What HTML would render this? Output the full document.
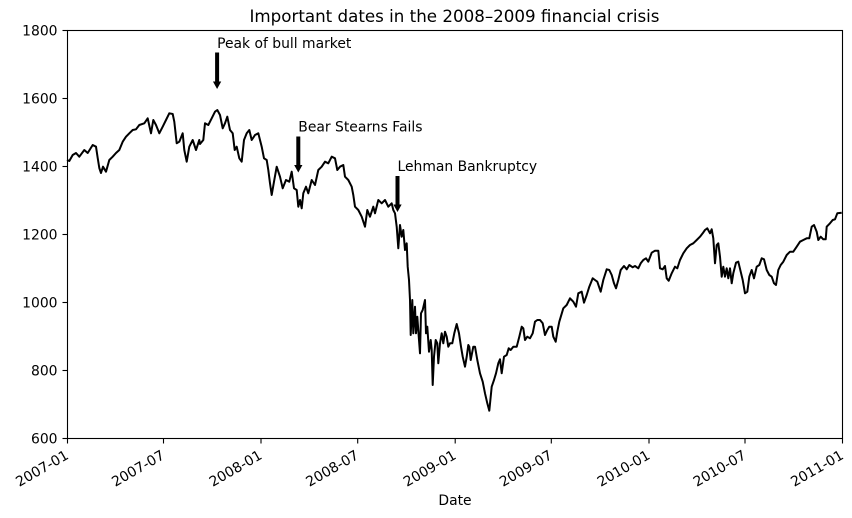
<!DOCTYPE html>
<html>
<head>
<meta charset="utf-8">
<style>
html,body{margin:0;padding:0;background:#fff;}
svg{display:block;}
text{font-family:"DejaVu Sans","Liberation Sans",sans-serif;fill:#000;}
</style>
</head>
<body>
<svg width="852" height="518" viewBox="0 0 852 518" xmlns="http://www.w3.org/2000/svg">
<rect x="0" y="0" width="852" height="518" fill="#fff"/>

<!-- title -->
<text x="454.5" y="22" font-size="16.7" text-anchor="middle">Important dates in the 2008–2009 financial crisis</text>

<!-- series -->
<polyline fill="none" stroke="#000" stroke-width="2" stroke-linejoin="round" points="
67,160 69.3,161 72.7,155 76,153 79.3,156.7 84.3,150 87.7,153 92.7,145 96,146.7 97.7,158 99.3,168 101,173 103,166.7 106,171.7 109.3,160 112.7,156.7 116,153 119.3,150 122.7,141.7 126,136.7 129.3,133.3 132.7,130 136,129.3 139.3,125 144.3,123.3 147.7,118.3 151,133.3 153.3,120 156,125 159.3,133.3 162.7,126.7 166,120 169.3,113.3 172.7,114 174.3,121.7 176.7,143.3 179.3,141.7 182.7,133.3 184.3,150 186.7,161.7 189.3,146.7 192.7,140 196,150 199.3,140
200,144 203.3,140 205,123.3 208.3,125 211.7,118.3 215,111.7 217.3,110 220,115 222.7,128.3 225,123.3 227.3,116.7 230,130 232.7,133.3 234.7,150 236.7,146.7 239.3,158.3 241.7,161.7 244,140 246.7,133.3 249.3,130 251.7,140 255,135 258.3,133.3 261.7,146.7 264,158.3 266.7,160 268.3,170 270,183.3 271.7,195 274,181.7 276.7,166.7 280,176.7 282.7,188.3 286,180 289.3,181.7 291.7,171.7 294,188.3 296.7,190 298.3,206.7 300,200 301.7,208.3 303.3,193.3 306,186.7 308.3,193.3 311.7,180 315,185 318.3,170 321.7,166.7 325,161.7 328.3,163.3 331.7,156.7 335,158.3 337.3,170 340,166.7
343.3,165 345,176.7 348.3,180 351.7,186.7 353.3,195 355,206.7 358.3,210 361.7,216.7 365,226.7 367.3,210 370,216.7 373.3,206.7 375,213.3 378.3,200 381.7,203.3 385,200 388.3,206.7 391.7,203.3 393.3,210
395,213.3 396.7,226.7 398.3,248.3 400,225 401.7,236.7 403.3,230 405,250 406.7,243.3 407.7,266.7 409,280 410,300 410.7,335 412.3,300 413.3,333.3 415,306.7 416,333.3 417.3,316.7 419,340 420,353.3 421,313.3 422.7,310 425,300 426,333.3 427.3,326.7 429,351.7 430.7,340 431.7,350 432.7,385 434,356.7 435.7,340 437.3,343.3 438.3,363.3 440,343.3 441.7,333.3 443.3,343.3 445,331.7 446.7,336.7 448.3,346.7 450,343.3 452.3,343.3 454.3,333.3 456.7,324 459,333.3 461,346.7 462.7,356.7 465,366.7 466.7,356.7 468.3,345
469.3,346.7 470.7,360 473.3,346.7 475,346.7 477.3,360 480,373.3 482.7,381.7 485,393.3 487.3,403.3 489.3,410.7 491.7,386.7 494,380 496,373.3 498.3,363.3 500,359.3 501.7,373.3 504,356.7 506.7,355 508.7,348.3 510.7,350 513.3,346.7 516.7,346.7 519.3,336.7 521.7,326.7 523.3,328.3 525,340 527.3,336.7 530,338.3 532.7,333.3 535,321.7 537.3,320 540,320 542.7,323.3 545,335 547.3,330 549.3,326.7 551.7,326.7 553.3,336.7 555.7,341.7 557.3,331.7 559.3,321.7
563.3,308.3 566.7,305 570,298.3 573.3,301.7 576,306.7 578.3,293.3 581.7,291.7 584,302.7 586.7,295 589.3,286.7 592.7,278.3 595,280 597.3,281.7 600.7,291.7 603.3,280 606.7,269.3 609.3,270 611.7,275 614,283.3 616,288.3 618.3,280 620.7,270 624,266 626.7,269.3 629.3,265 632.7,267.3 635,266 638.3,268.3 640.7,263.3 643.3,260 646,258.3 648.3,261.7 651.7,252.7 655,250.7 658.3,250.7 660,268.3 662.7,269.3 665,266 666.7,278.3 668.7,280.7 671.7,273.3 675,266.7 677.3,268.3 680,260 683.3,253.3 686.7,248.3 690,245 693.3,243.3 696.7,240 700,236.7 702.7,233.3 705,230 707.3,228.3 710,233.3 711.7,229.3 713.3,238.3 715,263.3 716.7,245 718.3,243.3 720,256.7 721.7,276.7 723.3,266.7 725,276.7 726.7,268.3 728.3,278.3 730,268.3 731.7,283.3 733.3,273.3 736,262.7 738.3,261.7 740.7,271.7 742.7,280 745,293.3 747.3,291.7 749.3,276.7 751.7,270 754,278.3 756.7,266.7 759.3,265 761.7,258.3 764,259.3 766.7,270 769.3,275 771.7,276.7 774,283.3 776,285 778.3,270 780.7,265 783.3,261.7 786.7,255 790,251.7 793.3,251.7 796.7,246.7 800,241.7 803.3,240 806.7,238.3 809.3,238.3 811.7,226.7 814,225 816.7,231.7 818.3,240 820.7,236.7 823.3,239.3 825.7,239.3 826.7,226.7 830,223.3 832.7,220 835,219.3 837.3,213.3 841.7,212.7"/>

<!-- axes frame -->
<rect x="67.5" y="30.5" width="775" height="408" fill="none" stroke="#000" stroke-width="1.1"/>

<!-- y ticks -->
<g stroke="#000" stroke-width="1.1">
<line x1="62.5" y1="438.5" x2="67.5" y2="438.5"/>
<line x1="62.5" y1="370.5" x2="67.5" y2="370.5"/>
<line x1="62.5" y1="302.5" x2="67.5" y2="302.5"/>
<line x1="62.5" y1="234.5" x2="67.5" y2="234.5"/>
<line x1="62.5" y1="166.5" x2="67.5" y2="166.5"/>
<line x1="62.5" y1="98.5" x2="67.5" y2="98.5"/>
<line x1="62.5" y1="30.5" x2="67.5" y2="30.5"/>
</g>
<g font-size="13.9" text-anchor="end">
<text x="57.5" y="443.5">600</text>
<text x="57.5" y="375.5">800</text>
<text x="57.5" y="307.5">1000</text>
<text x="57.5" y="239.5">1200</text>
<text x="57.5" y="171.5">1400</text>
<text x="57.5" y="103.5">1600</text>
<text x="57.5" y="35.5">1800</text>
</g>

<!-- x ticks -->
<g stroke="#000" stroke-width="1.1">
<line x1="67.5" y1="438.5" x2="67.5" y2="443.5"/>
<line x1="163.5" y1="438.5" x2="163.5" y2="443.5"/>
<line x1="261" y1="438.5" x2="261" y2="443.5"/>
<line x1="357.7" y1="438.5" x2="357.7" y2="443.5"/>
<line x1="455.2" y1="438.5" x2="455.2" y2="443.5"/>
<line x1="551.3" y1="438.5" x2="551.3" y2="443.5"/>
<line x1="649" y1="438.5" x2="649" y2="443.5"/>
<line x1="745" y1="438.5" x2="745" y2="443.5"/>
<line x1="842.5" y1="438.5" x2="842.5" y2="443.5"/>
</g>
<g font-size="13.9" text-anchor="end">
<text transform="translate(69.5,458) rotate(-30)">2007-01</text>
<text transform="translate(165.5,458) rotate(-30)">2007-07</text>
<text transform="translate(263,458) rotate(-30)">2008-01</text>
<text transform="translate(359.7,458) rotate(-30)">2008-07</text>
<text transform="translate(457.2,458) rotate(-30)">2009-01</text>
<text transform="translate(553.3,458) rotate(-30)">2009-07</text>
<text transform="translate(651,458) rotate(-30)">2010-01</text>
<text transform="translate(747,458) rotate(-30)">2010-07</text>
<text transform="translate(844.5,458) rotate(-30)">2011-01</text>
</g>

<!-- x label -->
<text x="455" y="505" font-size="13.9" text-anchor="middle">Date</text>

<!-- annotations -->
<g font-size="13.9">
<text x="217.1" y="48">Peak of bull market</text>
<text x="298.3" y="131.5">Bear Stearns Fails</text>
<text x="397.5" y="171">Lehman Bankruptcy</text>
</g>
<g fill="#000" stroke="#000" stroke-width="1">
<!-- Peak arrow -->
<polygon points="215.6,53 218.6,53 218.6,82 220.4,82 217.1,88 213.8,82 215.6,82"/>
<!-- Bear arrow -->
<polygon points="296.8,137 299.8,137 299.8,165.5 301.6,165.5 298.3,171.5 295,165.5 296.8,165.5"/>
<!-- Lehman arrow -->
<polygon points="396,176.5 399,176.5 399,205 400.8,205 397.5,211 394.2,205 396,205"/>
</g>
</svg>
</body>
</html>
